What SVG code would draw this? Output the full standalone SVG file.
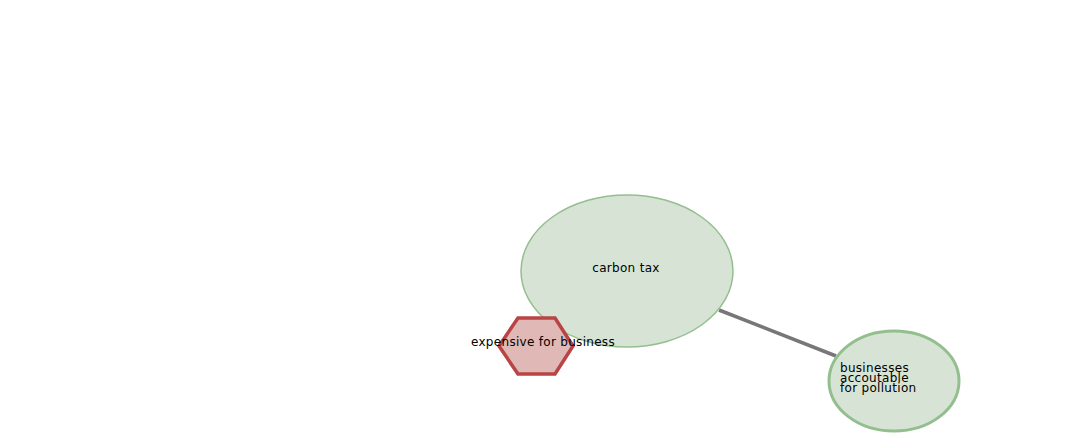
<svg xmlns="http://www.w3.org/2000/svg" width="1080" height="434" viewBox="0 0 1080 434">
<style>
.t{font-family:"DejaVu Sans","Liberation Sans",sans-serif;font-size:12px;fill:#000;letter-spacing:0.3px}
.ell{fill:#d7e4d5;stroke:#93bf8e}
</style>
<rect width="1080" height="434" fill="#fff"/>
<g id="connectors">
<line x1="719" y1="310" x2="836" y2="356" stroke="#777" stroke-width="3.5"/>
</g>
<g id="carbon-tax">
<ellipse class="ell" cx="627" cy="271" rx="106" ry="76" stroke-width="1.5"/>
<text class="t" x="626" y="272" text-anchor="middle">carbon tax</text>
</g>
<g id="businesses-accountable">
<ellipse class="ell" cx="894" cy="381" rx="65" ry="50" stroke-width="3"/>
<text class="t" x="840" y="372">businesses</text>
<text class="t" x="840" y="382">accoutable</text>
<text class="t" x="840" y="392">for pollution</text>
</g>
<g id="expensive">
<polygon points="499,346 518,318 555,318 573,346 555,374 518,374" fill="#e0b8b6" stroke="#b94444" stroke-width="3.5"/>
<text class="t" x="543" y="346" text-anchor="middle">expensive for business</text>
</g>
</svg>
